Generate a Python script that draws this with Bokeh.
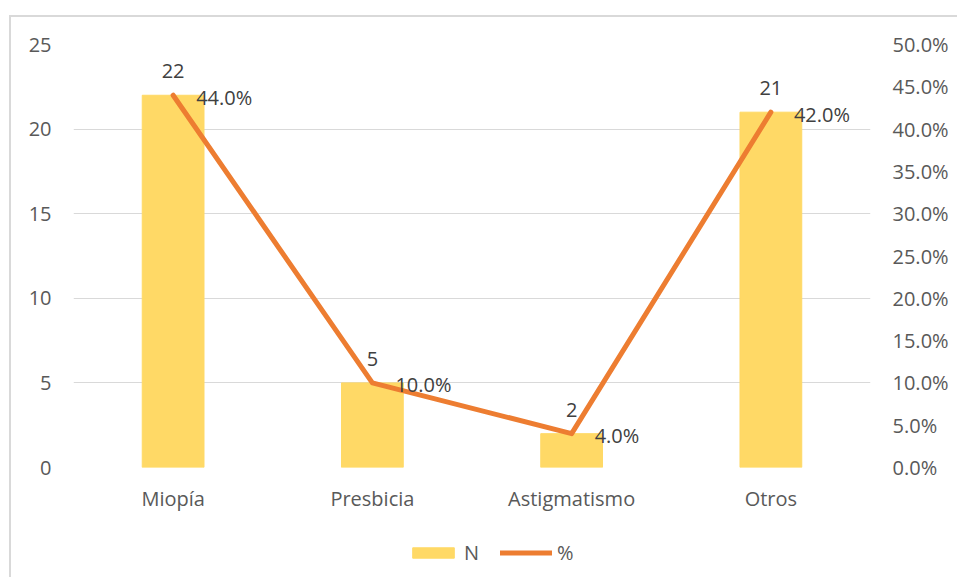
from bokeh.plotting import figure
from bokeh.layouts import column
from bokeh.models import (ColumnDataSource, LinearAxis, Range1d, FixedTicker,
                          NumeralTickFormatter, LabelSet, Legend, LegendItem)
from bokeh.core.properties import value
from bokeh.embed import file_html
from bokeh.resources import INLINE

# Datos
categorias = ["Miopía", "Presbicia", "Astigmatismo", "Otros"]
n_casos = [22, 5, 2, 21]
porcentaje = [0.44, 0.10, 0.04, 0.42]

FONT = "Open Sans"
FONT_SIZE = "20px"
AXIS_COLOR = "#595959"
LABEL_COLOR = "#404040"
GRID_COLOR = "#d9d9d9"
BAR_COLOR = "#FFD966"
LINE_COLOR = "#ED7D31"

src = ColumnDataSource(dict(
    cat=categorias,
    n=n_casos,
    pct=porcentaje,
    n_txt=[str(v) for v in n_casos],
    pct_txt=[f"{v * 100:.1f}%" for v in porcentaje],
))

p = figure(width=946, height=510, x_range=categorias, y_range=Range1d(0, 25),
           output_backend="svg", toolbar_location=None,
           min_border_left=62, min_border_right=87,
           min_border_top=27, min_border_bottom=60)
p.outline_line_color = None
p.background_fill_color = "white"
p.border_fill_color = "white"
p.extra_y_ranges = {"pct": Range1d(0, 0.5)}

# Barras (N) y línea (%)
p.vbar(x="cat", top="n", width=0.31, source=src, color=BAR_COLOR)
p.line(x="cat", y="pct", source=src, y_range_name="pct",
       line_color=LINE_COLOR, line_width=5, line_join="round",
       line_cap="round")

# Ejes
p.yaxis.ticker = FixedTicker(ticks=[0, 5, 10, 15, 20, 25])
right = LinearAxis(y_range_name="pct",
                   ticker=FixedTicker(ticks=[i * 0.05 for i in range(11)]),
                   formatter=NumeralTickFormatter(format="0.0%"))
p.add_layout(right, "right")

for ax in [p.xaxis[0], p.yaxis[0], right]:
    ax.axis_line_color = None
    ax.major_tick_line_color = None
    ax.minor_tick_line_color = None
    ax.major_label_text_font = FONT
    ax.major_label_text_font_size = FONT_SIZE
    ax.major_label_text_color = AXIS_COLOR
p.yaxis[0].major_label_standoff = 16
right.major_label_standoff = 16
p.xaxis[0].major_label_standoff = 11

p.xgrid.grid_line_color = None
p.ygrid.grid_line_color = GRID_COLOR
p.ygrid.grid_line_width = 1

# Etiquetas de datos
p.add_layout(LabelSet(x="cat", y="n", text="n_txt", source=src,
                      text_align="center", text_baseline="middle",
                      y_offset=24, text_font=value(FONT),
                      text_font_size=FONT_SIZE, text_color=LABEL_COLOR))
p.add_layout(LabelSet(x="cat", y="pct", text="pct_txt", source=src,
                      y_range_name="pct", text_align="left",
                      text_baseline="middle", x_offset=23, y_offset=-2,
                      text_font=value(FONT), text_font_size=FONT_SIZE,
                      text_color=LABEL_COLOR))

# Leyenda en una franja inferior (glifos de muestra sin datos dibujables)
nan = float("nan")
leg = figure(width=946, height=50, x_range=Range1d(0, 1), y_range=Range1d(0, 1),
             output_backend="svg", toolbar_location=None,
             x_axis_location=None, y_axis_location=None,
             min_border=0)
leg.outline_line_color = None
leg.grid.grid_line_color = None
r_bar = leg.vbar(x=[0.5], top=[nan], width=0.1, color=BAR_COLOR)
r_line = leg.line(x=[0.4, 0.6], y=[nan, nan], line_color=LINE_COLOR,
                  line_width=5, line_cap="round")
legend = Legend(items=[LegendItem(label="N", renderers=[r_bar]),
                       LegendItem(label="%", renderers=[r_line])],
                orientation="horizontal", location=(334, 11),
                glyph_width=52, glyph_height=13, spacing=16,
                label_text_font=FONT, label_text_font_size=FONT_SIZE,
                label_text_color=AXIS_COLOR, label_standoff=5,
                border_line_color=None, background_fill_alpha=0,
                padding=0, margin=0)
leg.add_layout(legend, "center")

layout = column(p, leg, spacing=0)
# Marco gris del área del gráfico
layout.styles = {"margin-left": "9px", "margin-top": "15px",
                 "border-left": "2px solid #d9d9d9",
                 "border-top": "2px solid #d9d9d9"}

open("out.html", "w").write(file_html(layout, INLINE))
